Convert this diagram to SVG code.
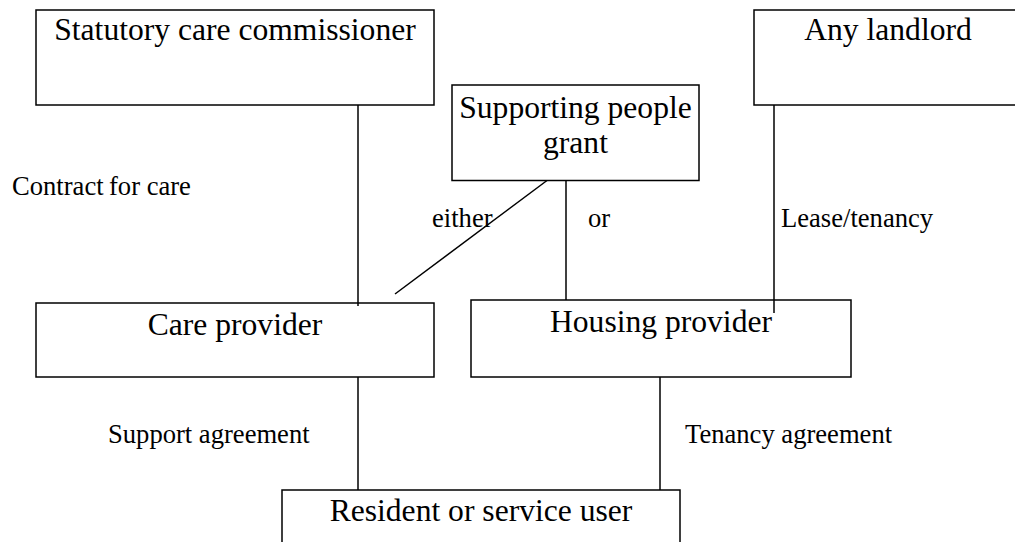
<svg xmlns="http://www.w3.org/2000/svg" width="1015" height="542" viewBox="0 0 1015 542">
  <style>
    .box { fill: #ffffff; stroke: #000000; stroke-width: 1.5; }
    .link { stroke: #000000; stroke-width: 1.5; fill: none; }
    .title { font-size: 31.6px; fill: #000000; text-anchor: middle; }
    .label { font-size: 26.6px; fill: #000000; }
  </style>
  <rect width="1015" height="542" fill="#ffffff"/>

  <g font-family="'Liberation Serif', 'Times New Roman', Times, serif">
  <!-- boxes -->
  <g id="commissioner">
    <rect class="box" x="36" y="10" width="398" height="95"/>
    <text class="title" x="235" y="40">Statutory care commissioner</text>
  </g>
  <g id="landlord">
    <rect class="box" x="754" y="10" width="268" height="95"/>
    <text class="title" x="888" y="40">Any landlord</text>
  </g>
  <g id="grant">
    <rect class="box" x="452" y="85" width="247" height="95.5"/>
    <text class="title" x="575.5" y="118">Supporting people</text>
    <text class="title" x="575.5" y="153">grant</text>
  </g>
  <g id="care-provider">
    <rect class="box" x="36" y="303" width="398" height="74"/>
    <text class="title" x="235" y="335">Care provider</text>
  </g>
  <g id="housing-provider">
    <rect class="box" x="471" y="300" width="380" height="77"/>
    <text class="title" x="661" y="332">Housing provider</text>
  </g>
  <g id="resident">
    <rect class="box" x="282" y="490" width="398" height="70"/>
    <text class="title" x="481" y="521">Resident or service user</text>
  </g>

  <!-- connectors -->
  <g id="connectors">
    <line class="link" x1="358" y1="105" x2="358" y2="306"/>
    <line class="link" x1="547" y1="180.5" x2="395" y2="294"/>
    <line class="link" x1="566" y1="180.5" x2="566" y2="300"/>
    <line class="link" x1="774" y1="105" x2="774" y2="313"/>
    <line class="link" x1="358" y1="377" x2="358" y2="490"/>
    <line class="link" x1="660" y1="377" x2="660" y2="490"/>
  </g>

  <!-- connector labels -->
  <g id="labels">
    <text class="label" x="12" y="195">Contract<tspan x="109">for care</tspan></text>
    <text class="label" x="432" y="227">either</text>
    <text class="label" x="588" y="227">or</text>
    <text class="label" x="781" y="227">Lease/tenancy</text>
    <text class="label" x="108" y="443">Support agreement</text>
    <text class="label" x="685" y="443">Tenancy agreement</text>
  </g>
  </g>
</svg>
